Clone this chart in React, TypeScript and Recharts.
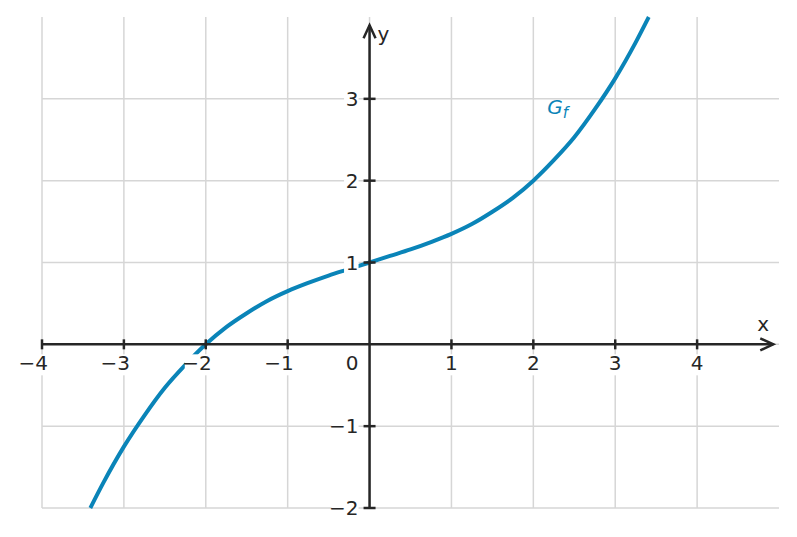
import { LineChart, Line, XAxis, YAxis, CartesianGrid, ReferenceLine, ReferenceDot } from 'recharts';

const curveX = [-3.41, -3.25, -3, -2.75, -2.5, -2.25, -2, -1.75, -1.5, -1.25, -1, -0.75, -0.5, -0.25, 0, 0.25, 0.5, 0.75, 1, 1.25, 1.5, 1.75, 2, 2.25, 2.5, 2.75, 3, 3.25, 3.41];
const curveY = [-2.0, -1.69, -1.25, -0.87, -0.53, -0.25, 0, 0.21, 0.38, 0.53, 0.65, 0.75, 0.84, 0.92, 1, 1.08, 1.16, 1.25, 1.35, 1.47, 1.62, 1.79, 2, 2.25, 2.53, 2.87, 3.25, 3.69, 4.0];

const xTicks = [-4, -3, -2, -1, 0, 1, 2, 3, 4];
const xTickLabels = ['−4', '−3', '−2', '−1', '0', '1', '2', '3', '4'];
const yTicks = [-2, -1, 1, 2, 3];
const yTickLabels = ['−2', '−1', '1', '2', '3'];
const gridX = [-4, -3, -2, -1, 0, 1, 2, 3, 4];
const gridY = [-2, -1, 0, 1, 2, 3];

const data = curveX.map((x, i) => ({ x, y: curveY[i] }));

const AXIS = '#262626';
const BLUE = '#0a84b8';
const FONT = '"DejaVu Sans", sans-serif';
const FS = 20;

const textW = (s: string) => s.length * 12.5 + 2;

function XTick(props: any) {
  const { cx, cy, label } = props;
  const neg = label.startsWith('−');
  const isZero = label === '0';
  const w = textW(label);
  let anchor: 'middle' | 'end' = 'middle';
  let tx = cx;
  let left = cx - w / 2;
  if (isZero) {
    anchor = 'end';
    tx = cx - 11;
    left = tx - w;
  } else if (neg) {
    anchor = 'end';
    tx = cx + 6;
    left = tx - w;
  }
  return (
    <g>
      {!isZero && <line x1={cx} x2={cx} y1={cy - 5} y2={cy + 5} stroke={AXIS} strokeWidth={2.5} />}
      <rect x={left} y={cy + 10} width={w} height={21} fill="white" />
      <text x={tx} y={cy + 26} textAnchor={anchor} fontFamily={FONT} fontSize={FS} fill={AXIS}>
        {label}
      </text>
    </g>
  );
}

function YTick(props: any) {
  const { cx, cy, label } = props;
  const w = textW(label);
  return (
    <g>
      <line x1={cx - 6} x2={cx + 6} y1={cy} y2={cy} stroke={AXIS} strokeWidth={2.5} />
      <rect x={cx - 11 - w} y={cy - 10} width={w} height={21} fill="white" />
      <text x={cx - 11} y={cy + 7} textAnchor="end" fontFamily={FONT} fontSize={FS} fill={AXIS}>
        {label}
      </text>
    </g>
  );
}

function XArrow(props: any) {
  const { cx, cy } = props;
  return (
    <g>
      <path d={`M${cx - 13},${cy - 6} L${cx},${cy} L${cx - 13},${cy + 6}`} fill="none" stroke={AXIS} strokeWidth={2.5} />
      <text x={cx - 16} y={cy - 13} fontFamily={FONT} fontSize={FS} fill={AXIS}>x</text>
    </g>
  );
}

function YArrow(props: any) {
  const { cx, cy } = props;
  return (
    <g>
      <path d={`M${cx - 6},${cy + 13} L${cx},${cy} L${cx + 6},${cy + 13}`} fill="none" stroke={AXIS} strokeWidth={2.5} />
      <text x={cx + 8} y={cy + 16} fontFamily={FONT} fontSize={FS} fill={AXIS}>y</text>
    </g>
  );
}

function CurveLabel(props: any) {
  const { cx, cy } = props;
  return (
    <text x={cx} y={cy} fontFamily={FONT} fontSize={20} fontStyle="italic" fill={BLUE}>
      G<tspan fontSize={15} dy={4}>f</tspan>
    </text>
  );
}

export default function App() {
  return (
    <LineChart width={781} height={521} data={data} margin={{ top: 9, right: 10, bottom: 21, left: 34 }}>
      <CartesianGrid
        verticalValues={gridX}
        horizontalValues={gridY}
        stroke="#d6d6d6"
        strokeWidth={1.5}
      />
      <XAxis type="number" dataKey="x" domain={[-4, 5]} hide />
      <YAxis type="number" domain={[-2, 4]} hide />
      <Line
        type="monotone"
        dataKey="y"
        stroke={BLUE}
        strokeWidth={4}
        dot={false}
        isAnimationActive={false}
      />
      <ReferenceLine segment={[{ x: -4, y: 0 }, { x: 4.93, y: 0 }]} stroke={AXIS} strokeWidth={2.5} ifOverflow="visible" />
      <ReferenceLine segment={[{ x: 0, y: -2 }, { x: 0, y: 3.9 }]} stroke={AXIS} strokeWidth={2.5} ifOverflow="visible" />
      {xTicks.map((t, i) => (
        <ReferenceDot key={`xt${t}`} x={t} y={0} ifOverflow="visible" shape={(p: any) => <XTick {...p} label={xTickLabels[i]} />} />
      ))}
      {yTicks.map((t, i) => (
        <ReferenceDot key={`yt${t}`} x={0} y={t} ifOverflow="visible" shape={(p: any) => <YTick {...p} label={yTickLabels[i]} />} />
      ))}
      <ReferenceDot x={4.93} y={0} ifOverflow="visible" shape={(p: any) => <XArrow {...p} />} />
      <ReferenceDot x={0} y={3.9} ifOverflow="visible" shape={(p: any) => <YArrow {...p} />} />
      <ReferenceDot x={2.17} y={2.81} ifOverflow="visible" shape={(p: any) => <CurveLabel {...p} />} />
    </LineChart>
  );
}
